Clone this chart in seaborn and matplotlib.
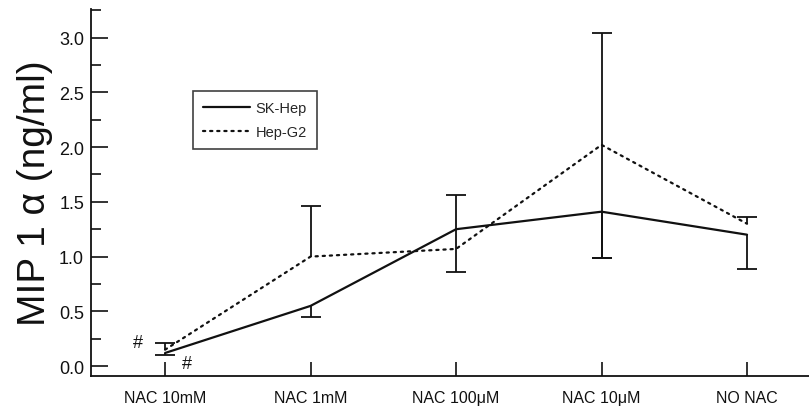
import numpy as np
import pandas as pd
import matplotlib
matplotlib.use("Agg")
import matplotlib.pyplot as plt
import seaborn as sns
from matplotlib.ticker import MultipleLocator

# Treatment groups along the x axis
categories = ["NAC 10mM", "NAC 1mM", "NAC 100\u03bcM", "NAC 10\u03bcM", "NO NAC"]

# MIP-1 alpha secretion (ng/ml), mean per group
sk_hep = [0.12, 0.55, 1.25, 1.41, 1.20]
hep_g2 = [0.15, 1.00, 1.07, 2.02, 1.30]

# Error bar extents (below / above the mean); 0 means no bar on that side
sk_err_lo = [0.02, 0.10, 0.39, 0.42, 0.31]
sk_err_hi = [0.00, 0.00, 0.31, 0.00, 0.00]
g2_err_lo = [0.00, 0.00, 0.00, 1.03, 0.00]
g2_err_hi = [0.06, 0.46, 0.00, 1.02, 0.06]

yticks = [0.0, 0.5, 1.0, 1.5, 2.0, 2.5, 3.0]
ytick_labels = ["0.0", "0.5", "1.0", "1.5", "2.0", "2.5", "3.0"]

sns.set_style("ticks")
plt.rcParams["font.family"] = ["Liberation Sans", "DejaVu Sans"]

pos = np.arange(len(categories))
df = pd.DataFrame({
    "pos": np.concatenate([pos, pos]),
    "value": sk_hep + hep_g2,
    "line": ["SK-Hep"] * len(pos) + ["Hep-G2"] * len(pos),
})

ink = "#111111"
fig = plt.figure(figsize=(8.09, 4.10), dpi=100)
ax = fig.add_axes([0.1125, 0.0805, 0.8875, 0.895])

sns.lineplot(data=df, x="pos", y="value", hue="line", style="line",
             palette={"SK-Hep": ink, "Hep-G2": ink},
             dashes={"SK-Hep": "", "Hep-G2": (1, 2.2)},
             linewidth=1.6, ax=ax, sort=False, legend=True)
for ln in ax.get_lines():
    ln.set_dash_capstyle("round")


def one_sided_bars(ax, x, mean, lo, hi):
    """Draw error stems and caps only on the sides that have an extent."""
    x = np.asarray(x, float)
    mean = np.asarray(mean, float)
    lo = np.asarray(lo, float)
    hi = np.asarray(hi, float)
    for ext, sign in ((lo, -1.0), (hi, 1.0)):
        m = ext > 0
        ends = mean[m] + sign * ext[m]
        ax.vlines(x[m], mean[m], ends, color=ink, linewidth=1.3)
        ax.plot(x[m], ends, linestyle="none", marker="_", markersize=15,
                markeredgewidth=1.3, color=ink)


one_sided_bars(ax, pos, sk_hep, sk_err_lo, sk_err_hi)
one_sided_bars(ax, pos, hep_g2, g2_err_lo, g2_err_hi)

# significance marks at the highest NAC dose
ax.text(-0.19, 0.22, "#", fontsize=13, ha="center", va="center", color=ink)
ax.text(0.15, 0.02, "#", fontsize=13, ha="center", va="center", color=ink)

ax.set_xlim(-0.509, 4.426)
ax.set_ylim(-0.09, 3.26)
ax.set_xticks(pos)
ax.set_xticklabels(categories, fontsize=11.5)
ax.set_yticks(yticks)
ax.set_yticklabels(ytick_labels, fontsize=13)
ax.yaxis.set_minor_locator(MultipleLocator(0.25))
ax.tick_params(axis="y", which="major", direction="in", length=12, width=1.2,
               pad=5, colors=ink)
ax.tick_params(axis="y", which="minor", direction="in", length=7, width=1.2, colors=ink)
ax.tick_params(axis="x", which="major", direction="in", length=10, width=1.2,
               pad=10, colors=ink)
ax.set_xlabel("")
ax.set_ylabel("MIP 1 \u03b1 (ng/ml)", fontsize=28, labelpad=4, color=ink)

for side in ["top", "right"]:
    ax.spines[side].set_visible(False)
for side in ["left", "bottom"]:
    ax.spines[side].set_linewidth(1.3)
    ax.spines[side].set_color(ink)

handles, labels = ax.get_legend_handles_labels()
leg = ax.legend(handles, labels, loc="upper left", bbox_to_anchor=(0.142, 0.777),
                borderaxespad=0, fontsize=10.5, frameon=True, fancybox=False,
                edgecolor=ink, handlelength=3.2, handletextpad=0.4,
                labelspacing=0.7, borderpad=0.7)
leg.get_frame().set_linewidth(1.2)

fig.savefig("out.png", dpi=100, facecolor="white")
